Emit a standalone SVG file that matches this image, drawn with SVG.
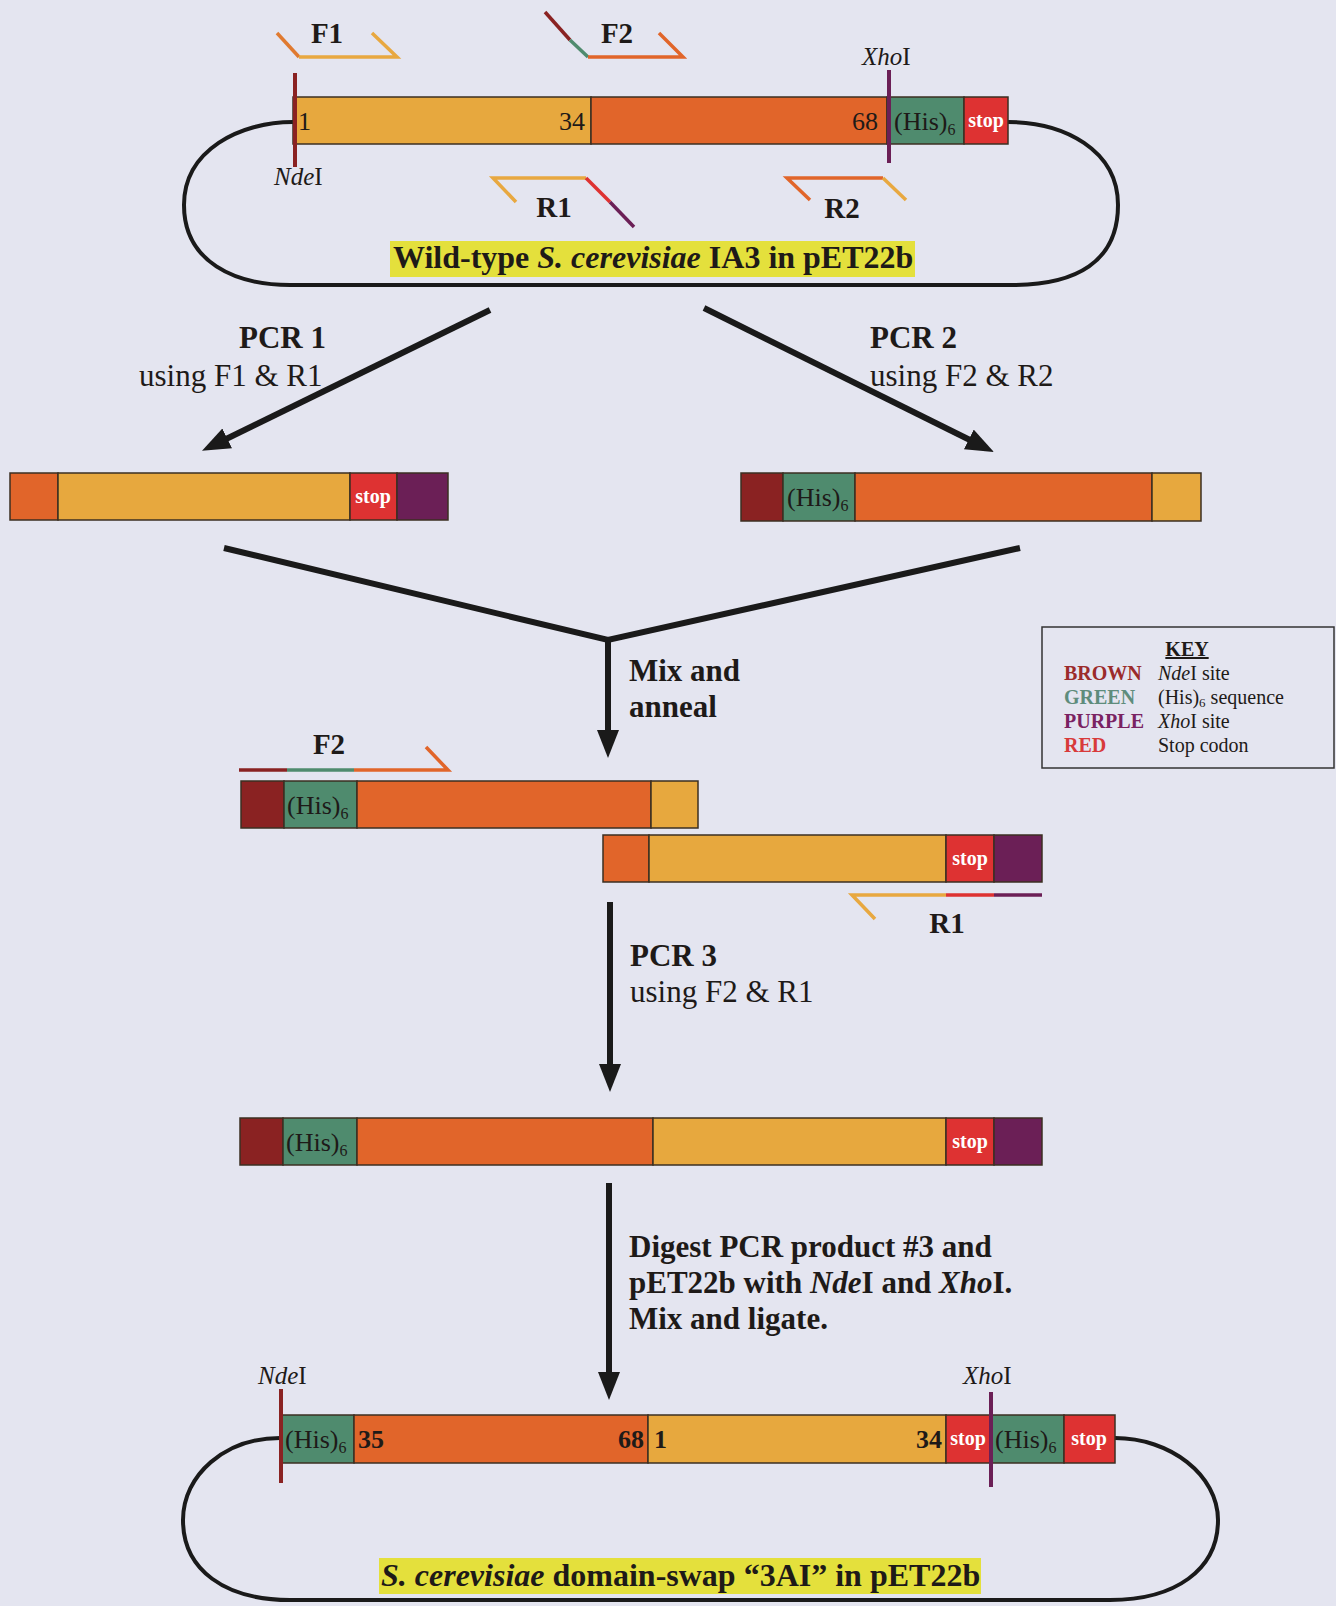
<svg xmlns="http://www.w3.org/2000/svg" width="1336" height="1606" viewBox="0 0 1336 1606">
<defs>
<style>
text{font-family:"Liberation Serif","Times New Roman",serif;fill:#1e1a18}
.bd{font-weight:bold}
.it{font-style:italic}
.lbl{font-size:31px}
.prm{font-size:29px;font-weight:bold}
.site{font-size:25px}
.seg{stroke:#3b2f22;stroke-width:1.5}
.y{fill:#E7A83E}.o{fill:#E1652A}.g{fill:#4F8B6E}.r{fill:#DE3232}.b{fill:#8A2222}.p{fill:#6B1F56}
.in{font-size:26px}
.stop{font-size:20px;font-weight:bold;fill:#ffffff}
.pl{fill:none;stroke-width:3.5;stroke-linecap:butt}
.loop{fill:none;stroke:#1a1a1a;stroke-width:4}
.arr{fill:none;stroke:#1a1a1a;stroke-width:6}
.hl{fill:#E4E03C}
.key{font-size:20px}
</style>
<marker id="ah" markerUnits="userSpaceOnUse" markerWidth="30" markerHeight="24" refX="8" refY="11" orient="auto">
<path d="M0,0 L28,11 L0,22 z" fill="#1a1a1a"/>
</marker>
</defs>
<rect width="1336" height="1606" fill="#E4E5F0"/>

<g id="connectors">
<path class="arr" d="M490,310 L220,442" marker-end="url(#ah)"/>
<path class="arr" d="M704,308 L976,443" marker-end="url(#ah)"/>
<path class="arr" d="M224,548 L608,640 L1020,548" stroke-width="7" stroke-linejoin="miter"/>
<path class="arr" d="M608,638 L608,738" marker-end="url(#ah)"/>
<path class="arr" d="M610,902 L610,1072" marker-end="url(#ah)"/>
<path class="arr" d="M609,1183 L609,1380" marker-end="url(#ah)"/>
</g>

<g id="plasmid-wt">
<path class="loop" d="M293,122 C240,122 184,150 184,205 C184,262 235,285 290,285 L1012,285 C1076,285 1118,262 1118,205 C1118,150 1064,122 1008,122"/>
<rect class="seg y" x="293" y="97" width="298" height="47"/>
<rect class="seg o" x="591" y="97" width="296" height="47"/>
<rect class="seg g" x="887" y="97" width="77" height="47"/>
<rect class="seg r" x="964" y="97" width="44" height="47"/>
<line x1="295" y1="73" x2="295" y2="167" stroke="#8A2222" stroke-width="4"/>
<line x1="889" y1="70" x2="889" y2="163" stroke="#6B1F56" stroke-width="4"/>
<text class="in" x="298" y="130">1</text>
<text class="in" x="585" y="130" text-anchor="end">34</text>
<text class="in" x="878" y="130" text-anchor="end">68</text>
<text class="in" x="894" y="130">(His)<tspan font-size="16" dy="5">6</tspan></text>
<text class="stop" x="986" y="127" text-anchor="middle">stop</text>
<text class="site" x="274" y="185"><tspan class="it">Nde</tspan>I</text>
<text class="site" x="862" y="65"><tspan class="it">Xho</tspan>I</text>
<rect class="hl" x="390" y="241" width="525" height="36"/>
<text class="bd" font-size="32" x="393" y="268">Wild-type <tspan class="it">S. cerevisiae</tspan> IA3 in pET22b</text>
</g>

<g id="primers-wt">
<path class="pl" stroke="#E07A30" d="M277,33 L299,57"/>
<path class="pl" stroke="#E8A840" d="M299,57 L397,57 L372,33"/>
<text class="prm" x="327" y="43" text-anchor="middle">F1</text>
<path class="pl" stroke="#8A2222" d="M545,12 L570,40"/>
<path class="pl" stroke="#4F8B6E" d="M570,40 L588,57"/>
<path class="pl" stroke="#E1652A" d="M588,57 L683,57 L659,33"/>
<text class="prm" x="617" y="43" text-anchor="middle">F2</text>
<path class="pl" stroke="#E8A840" d="M516,202 L493,178 L586,178"/>
<path class="pl" stroke="#DE3232" d="M586,178 L610,202"/>
<path class="pl" stroke="#6B1F56" d="M610,202 L634,227"/>
<text class="prm" x="554" y="217" text-anchor="middle">R1</text>
<path class="pl" stroke="#E1652A" d="M810,200 L787,178 L883,178"/>
<path class="pl" stroke="#E8A840" d="M883,178 L906,200"/>
<text class="prm" x="842" y="218" text-anchor="middle">R2</text>
</g>

<g id="label-pcr1">
<text class="lbl bd" x="239" y="348">PCR 1</text>
<text class="lbl" x="139" y="386">using F1 &amp; R1</text>
</g>
<g id="label-pcr2">
<text class="lbl bd" x="870" y="348">PCR 2</text>
<text class="lbl" x="870" y="386">using F2 &amp; R2</text>
</g>

<g id="product-pcr1">
<rect class="seg o" x="10" y="473" width="48" height="47"/>
<rect class="seg y" x="58" y="473" width="292" height="47"/>
<rect class="seg r" x="350" y="473" width="47" height="47"/>
<rect class="seg p" x="397" y="473" width="51" height="47"/>
<text class="stop" x="373" y="503" text-anchor="middle">stop</text>
</g>

<g id="product-pcr2">
<rect class="seg b" x="741" y="473" width="42" height="48"/>
<rect class="seg g" x="783" y="473" width="72" height="48"/>
<rect class="seg o" x="855" y="473" width="297" height="48"/>
<rect class="seg y" x="1152" y="473" width="49" height="48"/>
<text class="in" x="787" y="506">(His)<tspan font-size="16" dy="5">6</tspan></text>
</g>

<g id="label-mix">
<text class="lbl bd" x="629" y="681">Mix and</text>
<text class="lbl bd" x="629" y="717">anneal</text>
</g>

<g id="key">
<rect x="1042" y="627" width="292" height="141" fill="none" stroke="#333" stroke-width="1.5"/>
<text class="key bd" x="1187" y="656" text-anchor="middle" text-decoration="underline">KEY</text>
<text class="key bd" x="1064" y="680" style="fill:#9B2B2B">BROWN</text>
<text class="key" x="1158" y="680"><tspan class="it">Nde</tspan>I site</text>
<text class="key bd" x="1064" y="704" style="fill:#5E8C7C">GREEN</text>
<text class="key" x="1158" y="704">(His)<tspan font-size="13" dy="3">6</tspan><tspan dy="-3"> sequence</tspan></text>
<text class="key bd" x="1064" y="728" style="fill:#7A2262">PURPLE</text>
<text class="key" x="1158" y="728"><tspan class="it">Xho</tspan>I site</text>
<text class="key bd" x="1064" y="752" style="fill:#D83A3A">RED</text>
<text class="key" x="1158" y="752">Stop codon</text>
</g>

<g id="anneal">
<path class="pl" stroke="#8A2222" d="M239,770 L287,770"/>
<path class="pl" stroke="#4F8B6E" d="M287,770 L354,770"/>
<path class="pl" stroke="#E1652A" d="M354,770 L448,770 L426,747"/>
<text class="prm" x="329" y="754" text-anchor="middle">F2</text>
<rect class="seg b" x="241" y="781" width="43" height="47"/>
<rect class="seg g" x="284" y="781" width="73" height="47"/>
<rect class="seg o" x="357" y="781" width="294" height="47"/>
<rect class="seg y" x="651" y="781" width="47" height="47"/>
<text class="in" x="287" y="814">(His)<tspan font-size="16" dy="5">6</tspan></text>
<rect class="seg o" x="603" y="835" width="46" height="47"/>
<rect class="seg y" x="649" y="835" width="297" height="47"/>
<rect class="seg r" x="946" y="835" width="48" height="47"/>
<rect class="seg p" x="994" y="835" width="48" height="47"/>
<text class="stop" x="970" y="865" text-anchor="middle">stop</text>
<path class="pl" stroke="#E8A840" d="M875,919 L852,895 L946,895"/>
<path class="pl" stroke="#DE3232" d="M946,895 L994,895"/>
<path class="pl" stroke="#6B1F56" d="M994,895 L1042,895"/>
<text class="prm" x="947" y="933" text-anchor="middle">R1</text>
</g>

<g id="label-pcr3">
<text class="lbl bd" x="630" y="966">PCR 3</text>
<text class="lbl" x="630" y="1002">using F2 &amp; R1</text>
</g>

<g id="product-pcr3">
<rect class="seg b" x="240" y="1118" width="43" height="47"/>
<rect class="seg g" x="283" y="1118" width="74" height="47"/>
<rect class="seg o" x="357" y="1118" width="296" height="47"/>
<rect class="seg y" x="653" y="1118" width="293" height="47"/>
<rect class="seg r" x="946" y="1118" width="48" height="47"/>
<rect class="seg p" x="994" y="1118" width="48" height="47"/>
<text class="in" x="286" y="1151">(His)<tspan font-size="16" dy="5">6</tspan></text>
<text class="stop" x="970" y="1148" text-anchor="middle">stop</text>
</g>

<g id="label-digest">
<text class="lbl bd" x="629" y="1257">Digest PCR product #3 and</text>
<text class="lbl bd" x="629" y="1293">pET22b with <tspan class="it">Nde</tspan>I and <tspan class="it">Xho</tspan>I.</text>
<text class="lbl bd" x="629" y="1329">Mix and ligate.</text>
</g>

<g id="plasmid-swap">
<path class="loop" d="M280,1438 C225,1438 183,1475 183,1520 C183,1570 225,1600 290,1600 L1110,1600 C1175,1600 1218,1570 1218,1520 C1218,1475 1170,1438 1115,1438"/>
<rect class="seg g" x="280" y="1415" width="74" height="48"/>
<rect class="seg o" x="354" y="1415" width="294" height="48"/>
<rect class="seg y" x="648" y="1415" width="298" height="48"/>
<rect class="seg r" x="946" y="1415" width="45" height="48"/>
<rect class="seg g" x="991" y="1415" width="73" height="48"/>
<rect class="seg r" x="1064" y="1415" width="51" height="48"/>
<line x1="281" y1="1389" x2="281" y2="1483" stroke="#8A2222" stroke-width="4"/>
<line x1="991" y1="1392" x2="991" y2="1487" stroke="#6B1F56" stroke-width="4"/>
<text class="in" x="285" y="1448">(His)<tspan font-size="16" dy="5">6</tspan></text>
<text class="in bd" x="358" y="1448">35</text>
<text class="in bd" x="644" y="1448" text-anchor="end">68</text>
<text class="in bd" x="654" y="1448">1</text>
<text class="in bd" x="942" y="1448" text-anchor="end">34</text>
<text class="stop" x="968" y="1445" text-anchor="middle">stop</text>
<text class="in" x="995" y="1448">(His)<tspan font-size="16" dy="5">6</tspan></text>
<text class="stop" x="1089" y="1445" text-anchor="middle">stop</text>
<text class="site" x="258" y="1384"><tspan class="it">Nde</tspan>I</text>
<text class="site" x="963" y="1384"><tspan class="it">Xho</tspan>I</text>
<rect class="hl" x="379" y="1558" width="602" height="36"/>
<text class="bd" font-size="32" x="381" y="1586"><tspan class="it">S. cerevisiae</tspan> domain-swap “3AI” in pET22b</text>
</g>
</svg>
